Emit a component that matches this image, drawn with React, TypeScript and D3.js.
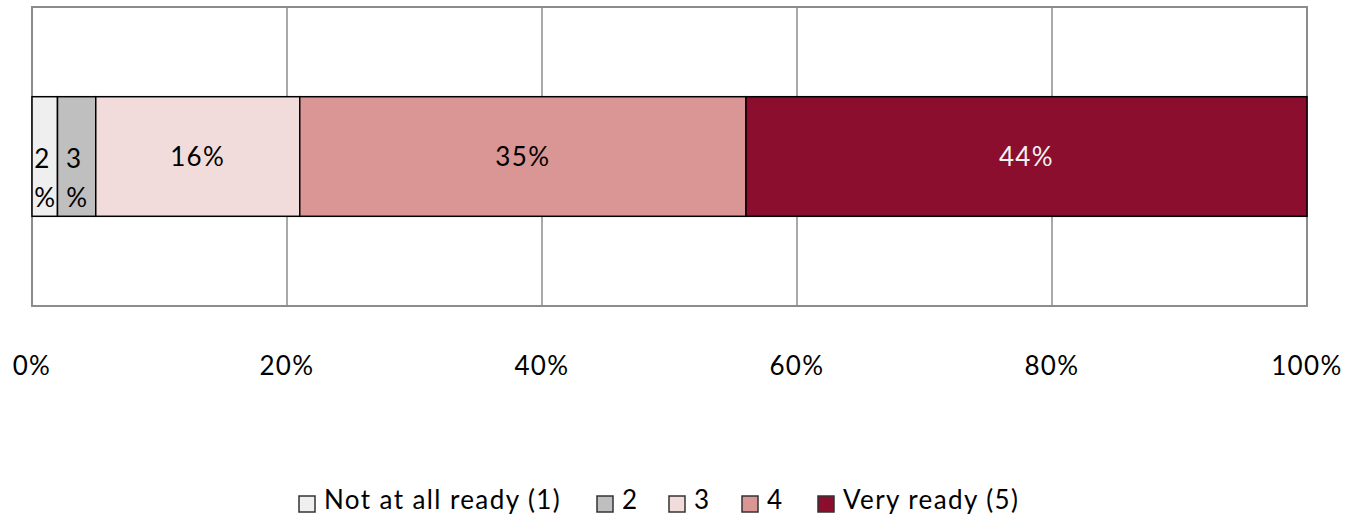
import React from "react";
import * as d3 from "d3";

const categories = ["Not at all ready (1)", "2", "3", "4", "Very ready (5)"];
const values = [2, 3, 16, 35, 44];
const colors = ["#efefef", "#bfbfbf", "#f2dcdb", "#d99694", "#8b0e2e"];
const labelColors = ["#000", "#000", "#000", "#000", "#f2f2f2"];
const ticks = [0, 20, 40, 60, 80, 100];

const W = 1352;
const H = 519;
const FONT = "Lato, 'Open Sans', sans-serif";
const LS = 1.4;

export default function App() {
  const x = d3.scaleLinear().domain([0, 100]).range([32, 1307]);
  const y = d3.scaleBand().domain(["row"]).range([7, 306]).paddingInner(0.6).paddingOuter(0.3);
  const plotTop = 7;
  const plotBottom = 306;

  const stack = d3.stack<Record<string, number>>().keys(categories)([
    Object.fromEntries(categories.map((c, i) => [c, values[i]])),
  ]);

  const by = y("row")!;
  const bh = y.bandwidth();
  const cy = by + bh / 2;

  // legend swatch positions
  const legendX = [299, 597, 669, 742, 818];

  return (
    <div style={{ position: "absolute", left: 0, top: 0 }}>
      <svg width={W} height={H} style={{ display: "block", background: "#fff" }}>
        {/* plot frame and gridlines */}
        <rect x={x(0)} y={plotTop} width={x(100) - x(0)} height={plotBottom - plotTop} fill="none" stroke="#8c8c8c" strokeWidth={2} />
        {ticks.slice(1, -1).map((t) => (
          <line key={t} x1={x(t)} x2={x(t)} y1={plotTop} y2={plotBottom} stroke="#8c8c8c" strokeWidth={1.5} />
        ))}
        {/* stacked segments */}
        {stack.map((s, i) => {
          const [x0, x1] = s[0];
          const sx = x(x0);
          const sw = x(x1) - x(x0);
          const mid = sx + sw / 2;
          const narrow = sw < 50;
          return (
            <g key={categories[i]}>
              <rect x={sx} y={by} width={sw} height={bh} fill={colors[i]} stroke="#000" strokeWidth={1.5} />
              {narrow ? (
                <text fontFamily={FONT} fontSize={26} fill={labelColors[i]} textAnchor="middle">
                  <tspan x={mid - 3} y={cy + 11}>{values[i]}</tspan>
                  <tspan x={mid} y={cy + 50}>%</tspan>
                </text>
              ) : (
                <text x={mid} y={cy + 9} fontFamily={FONT} fontSize={26} letterSpacing={LS} fill={labelColors[i]} textAnchor="middle">
                  {values[i]}%
                </text>
              )}
            </g>
          );
        })}
        {/* axis tick labels */}
        {ticks.map((t) => (
          <text key={t} x={x(t)} y={375} fontFamily={FONT} fontSize={26} letterSpacing={LS} fill="#000" textAnchor="middle">
            {t}%
          </text>
        ))}
        {/* legend */}
        {categories.map((c, i) => (
          <g key={c}>
            <rect x={legendX[i]} y={496} width={16} height={16} fill={colors[i]} stroke="#333" strokeWidth={1.5} />
            <text x={legendX[i] + 25} y={509} fontFamily={FONT} fontSize={26} letterSpacing={LS} fill="#000">
              {c}
            </text>
          </g>
        ))}
      </svg>
    </div>
  );
}
